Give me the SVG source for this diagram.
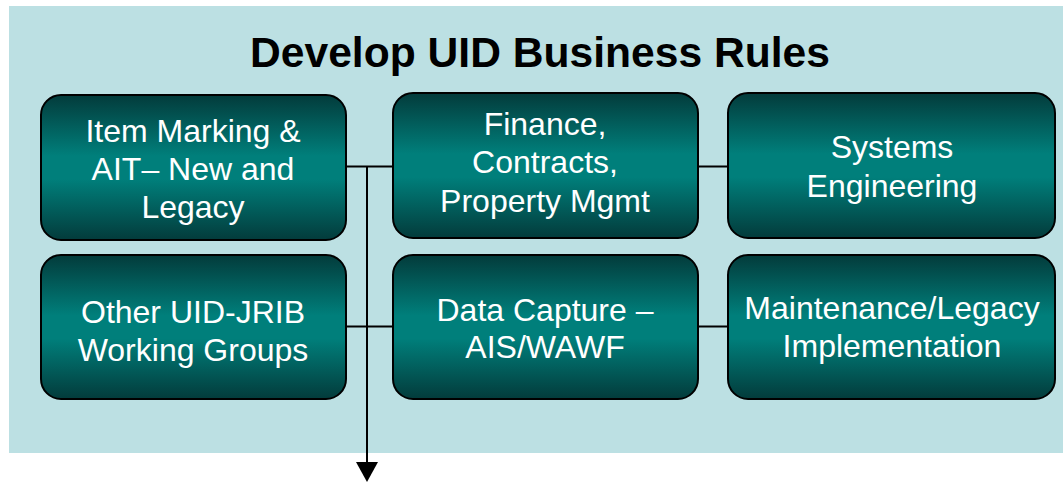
<svg xmlns="http://www.w3.org/2000/svg" width="1063" height="483" viewBox="0 0 1063 483">
<style>
.node rect{fill:url(#tealGrad);stroke:#000;stroke-width:2}
.node text{fill:#fff;font-family:"Liberation Sans",Arial,sans-serif;font-size:32px;text-anchor:middle}
.title{fill:#000;font-family:"Liberation Sans",Arial,sans-serif;font-size:42.6px;font-weight:bold;text-anchor:middle}
.conn{stroke:#000;stroke-width:2;fill:none}
</style>
<defs>
<linearGradient id="tealGrad" x1="0" y1="0" x2="0" y2="1">
<stop offset="0" stop-color="#033b3b"/>
<stop offset="0.42" stop-color="#007f7b"/>
<stop offset="0.58" stop-color="#007f7b"/>
<stop offset="1" stop-color="#033b3b"/>
</linearGradient>
<marker id="arrow" viewBox="0 0 20 22" refX="0" refY="11" markerWidth="20" markerHeight="22" markerUnits="userSpaceOnUse" orient="auto">
<path d="M0,0 L20,11 L0,22 z" fill="#000"/>
</marker>
</defs>
<rect x="9" y="6" width="1054" height="447" fill="#bce0e3"/>
<text class="title" x="540" y="67">Develop UID Business Rules</text>
<g id="connectors">
<line class="conn" x1="346" y1="166.5" x2="393" y2="166.5"/>
<line class="conn" x1="346" y1="326.5" x2="393" y2="326.5"/>
<line class="conn" x1="698" y1="166.5" x2="728" y2="166.5"/>
<line class="conn" x1="698" y1="326.5" x2="728" y2="326.5"/>
<line class="conn" x1="367" y1="166.5" x2="367" y2="462" marker-end="url(#arrow)"/>
</g>
<g id="node-item-marking" class="node">
<rect x="41" y="95" width="305" height="145" rx="20"/>
<text x="193" y="142">Item Marking &amp;</text>
<text x="193" y="180">AIT– New and</text>
<text x="193" y="218">Legacy</text>
</g>
<g id="node-finance" class="node">
<rect x="393" y="93" width="305" height="145" rx="20"/>
<text x="545" y="135">Finance,</text>
<text x="545" y="173">Contracts,</text>
<text x="545" y="212">Property Mgmt</text>
</g>
<g id="node-systems" class="node">
<rect x="728" y="93" width="327" height="145" rx="20"/>
<text x="892" y="158">Systems</text>
<text x="892" y="197">Engineering</text>
</g>
<g id="node-other" class="node">
<rect x="41" y="255" width="305" height="144" rx="20"/>
<text x="193" y="323">Other UID-JRIB</text>
<text x="193" y="361">Working Groups</text>
</g>
<g id="node-data-capture" class="node">
<rect x="393" y="255" width="305" height="144" rx="20"/>
<text x="545" y="321">Data Capture –</text>
<text x="545" y="358">AIS/WAWF</text>
</g>
<g id="node-maintenance" class="node">
<rect x="728" y="255" width="327" height="144" rx="20"/>
<text x="892" y="319">Maintenance/Legacy</text>
<text x="892" y="357">Implementation</text>
</g>
</svg>
